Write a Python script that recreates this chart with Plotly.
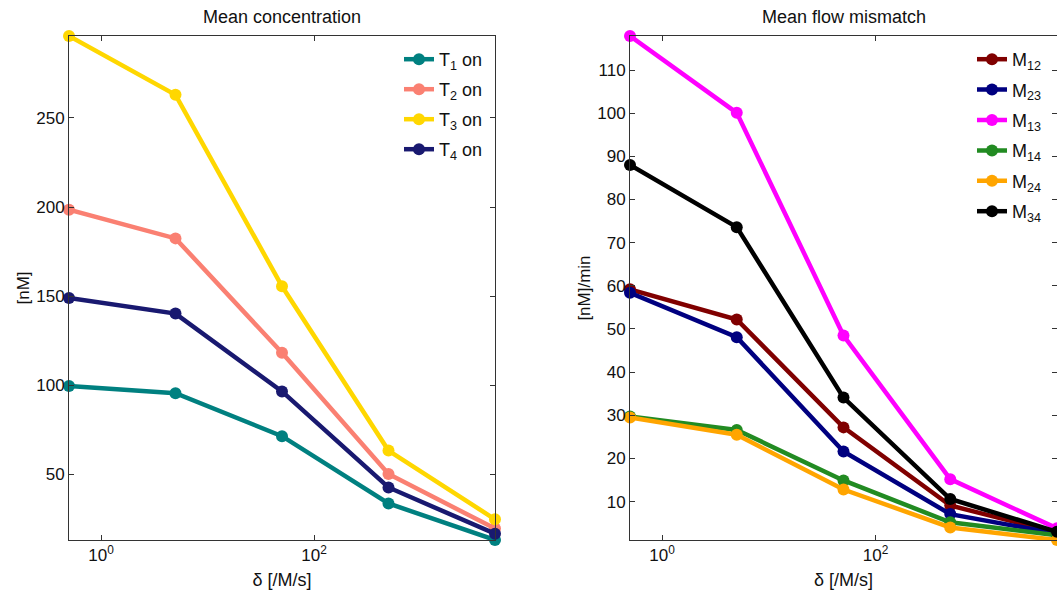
import math
import plotly.graph_objects as go

delta = [0.5, 5, 50, 500, 5000]

# Mean concentration [nM]
T1 = [99.5, 95.5, 71.4, 33.6, 13.1]
T2 = [198.5, 182.4, 118.2, 50.2, 19.5]
T3 = [296.0, 263.0, 155.5, 63.3, 24.7]
T4 = [149.0, 140.2, 96.5, 42.6, 16.6]
conc_names = ["T<sub>1</sub> on", "T<sub>2</sub> on", "T<sub>3</sub> on", "T<sub>4</sub> on"]
conc_colors = ["#008080", "#FA8072", "#FFD700", "#191970"]

# Mean flow mismatch [nM]/min
M12 = [59.2, 52.2, 27.2, 9.1, 2.8]
M23 = [58.4, 48.1, 21.6, 7.1, 2.6]
M13 = [117.9, 100.1, 48.5, 15.2, 3.8]
M14 = [29.7, 26.6, 14.9, 5.2, 2.2]
M24 = [29.5, 25.5, 12.8, 4.0, 1.1]
M34 = [88.0, 73.6, 34.1, 10.6, 3.0]
flow_names = ["M<sub>12</sub>", "M<sub>23</sub>", "M<sub>13</sub>", "M<sub>14</sub>", "M<sub>24</sub>", "M<sub>34</sub>"]
flow_colors = ["#800000", "#000080", "#FF00FF", "#228B22", "#FFA500", "#000000"]

conc_series = [T1, T2, T3, T4]
flow_series = [M12, M23, M13, M14, M24, M34]

FONT = "Liberation Sans, Arial, Helvetica, sans-serif"
W, H = 1057, 598


def px_x(p):
    return p / W


def px_y(p):
    return 1 - p / H


fig = go.Figure()
legends = {}
k = 0
for i, (ys, name, col) in enumerate(zip(conc_series, conc_names, conc_colors)):
    k += 1
    lname = "legend" if k == 1 else f"legend{k}"
    fig.add_trace(go.Scatter(x=delta, y=ys, name=name, mode="lines+markers",
                             line=dict(color=col, width=4.5),
                             marker=dict(color=col, size=12),
                             xaxis="x", yaxis="y", legend=lname, showlegend=True,
                             cliponaxis=False))
    legends[lname] = dict(x=px_x(399), y=px_y(60 + 30 * i - 19), xanchor="left", yanchor="top",
                          bgcolor="rgba(0,0,0,0)", font=dict(size=18, family=FONT, color="#111"),
                          itemwidth=30, tracegroupgap=0, visible=True)
for i, (ys, name, col) in enumerate(zip(flow_series, flow_names, flow_colors)):
    k += 1
    lname = f"legend{k}"
    fig.add_trace(go.Scatter(x=delta, y=ys, name=name, mode="lines+markers",
                             line=dict(color=col, width=4.5),
                             marker=dict(color=col, size=12),
                             xaxis="x2", yaxis="y2", legend=lname, showlegend=True,
                             cliponaxis=False))
    legends[lname] = dict(x=px_x(972), y=px_y(60 + 30.4 * i - 19), xanchor="left", yanchor="top",
                          bgcolor="rgba(0,0,0,0)", font=dict(size=18, family=FONT, color="#111"),
                          itemwidth=30, tracegroupgap=0, visible=True)

xr = [math.log10(min(delta)), math.log10(max(delta))]

common_x = dict(type="log", range=xr, tickvals=[1, 100],
                ticktext=["10<sup>0</sup>", "10<sup>2</sup>"],
                ticks="inside", ticklen=5, tickcolor="#333", showline=True,
                linecolor="#333", linewidth=1, mirror="ticks", showgrid=False,
                zeroline=False, tickfont=dict(size=17, color="#111", family=FONT),
                title=dict(text="δ [/M/s]", font=dict(size=18, color="#111", family=FONT), standoff=8))
common_y = dict(ticks="inside", ticklen=5, tickcolor="#333", showline=True,
                linecolor="#333", linewidth=1, mirror="ticks", showgrid=False,
                zeroline=False, tickfont=dict(size=17, color="#111", family=FONT))

y_dom = [px_y(540), px_y(36)]
fig.update_layout(
    width=W, height=H,
    margin=dict(l=0, r=0, t=0, b=0),
    paper_bgcolor="white", plot_bgcolor="white",
    showlegend=True,
    font=dict(family=FONT, color="#111"),
    xaxis=dict(domain=[px_x(69), px_x(495)], anchor="y", **common_x),
    yaxis=dict(domain=y_dom, anchor="x", range=[min(T1), max(T3)],
               tickvals=[50, 100, 150, 200, 250],
               title=dict(text="[nM]", font=dict(size=17, family=FONT), standoff=2), **common_y),
    xaxis2=dict(domain=[px_x(630), px_x(1057)], anchor="y2", **common_x),
    yaxis2=dict(domain=y_dom, anchor="x2", range=[min(M24), max(M13)],
                tickvals=[10, 20, 30, 40, 50, 60, 70, 80, 90, 100, 110],
                title=dict(text="[nM]/min", font=dict(size=17, family=FONT), standoff=2), **common_y),
    annotations=[
        dict(text="Mean concentration", x=(px_x(69) + px_x(495)) / 2, y=px_y(17),
             xref="paper", yref="paper", xanchor="center", yanchor="middle", showarrow=False,
             font=dict(size=18, family=FONT, color="#111")),
        dict(text="Mean flow mismatch", x=(px_x(630) + px_x(1057)) / 2, y=px_y(17),
             xref="paper", yref="paper", xanchor="center", yanchor="middle", showarrow=False,
             font=dict(size=18, family=FONT, color="#111")),
    ],
    **legends,
)

fig.write_html("out.html")
